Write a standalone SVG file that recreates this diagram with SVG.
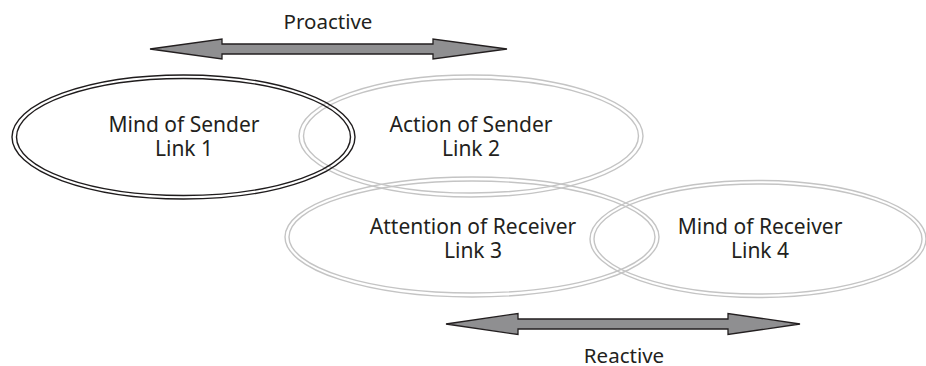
<svg xmlns="http://www.w3.org/2000/svg" width="926" height="366" viewBox="0 0 926 366">
  <style>
    .ring { fill: none; stroke-width: 1.4; }
    .dark { stroke: #1f1c1d; }
    .light { stroke: #c4c4c4; }
    .label { font-family: "Noto Sans", "Open Sans", sans-serif; fill: #231f20; text-anchor: middle; }
    .node-text { font-size: 21px; }
    .side-text { font-size: 20.5px; }
    .arrow { fill: #8f8f91; stroke: #231f20; stroke-width: 1.3; stroke-linejoin: miter; }
  </style>
  <rect width="926" height="366" fill="#ffffff"/>

  <!-- Link 2 -->
  <g id="action-of-sender">
    <ellipse class="ring light" cx="471" cy="136" rx="172" ry="61"/>
    <ellipse class="ring light" cx="471" cy="136" rx="167.5" ry="57"/>
    <text class="label node-text" x="471" y="132">Action of Sender</text>
    <text class="label node-text" x="471" y="156">Link 2</text>
  </g>

  <!-- Link 3 -->
  <g id="attention-of-receiver">
    <ellipse class="ring light" cx="472" cy="237" rx="187" ry="60"/>
    <ellipse class="ring light" cx="472" cy="237" rx="183" ry="56"/>
    <text class="label node-text" x="473" y="234">Attention of Receiver</text>
    <text class="label node-text" x="473" y="258">Link 3</text>
  </g>

  <!-- Link 4 -->
  <g id="mind-of-receiver">
    <ellipse class="ring light" cx="758" cy="239" rx="168" ry="58.5"/>
    <ellipse class="ring light" cx="758" cy="239" rx="164" ry="55"/>
    <text class="label node-text" x="760" y="234">Mind of Receiver</text>
    <text class="label node-text" x="760" y="258">Link 4</text>
  </g>

  <!-- Link 1 -->
  <g id="mind-of-sender">
    <ellipse class="ring dark" cx="183.5" cy="137" rx="171.5" ry="62"/>
    <ellipse class="ring dark" cx="183.5" cy="137" rx="167" ry="58.5"/>
    <text class="label node-text" x="184" y="132">Mind of Sender</text>
    <text class="label node-text" x="184" y="156">Link 1</text>
  </g>

  <!-- double-headed arrows -->
  <g id="connectors">
    <path class="arrow" d="M150,49 L222,39 L222,44 L433,44 L433,39 L507,49 L433,59 L433,54 L222,54 L222,59 Z"/>
    <path class="arrow" d="M446,324 L518,313.5 L518,319 L728,319 L728,313.5 L800,324 L728,334.5 L728,329 L518,329 L518,334.5 Z"/>
  </g>

  <g id="labels">
    <text class="label side-text" x="328" y="29">Proactive</text>
    <text class="label side-text" x="624" y="363">Reactive</text>
  </g>
</svg>
